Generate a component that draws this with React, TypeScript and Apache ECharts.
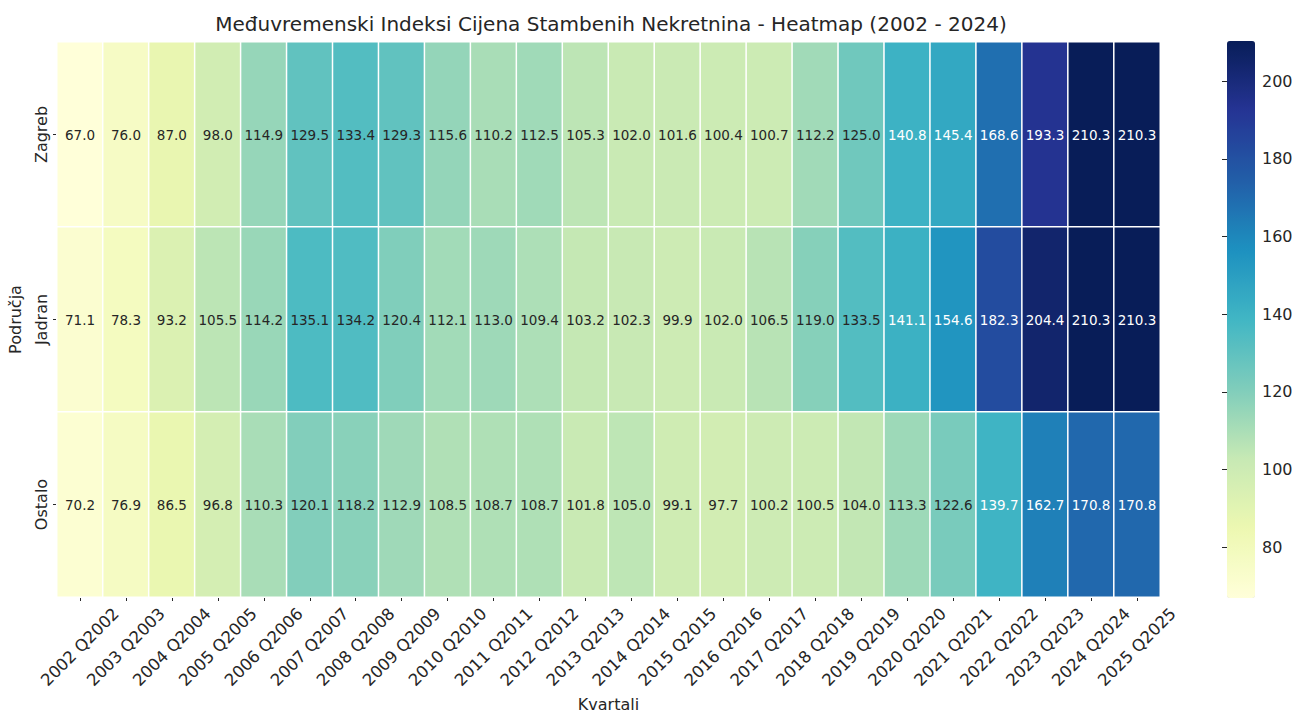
import React, { useEffect, useRef } from "react";
import * as echarts from "echarts";

const years = ["2002","2003","2004","2005","2006","2007","2008","2009","2010","2011","2012","2013","2014","2015","2016","2017","2018","2019","2020","2021","2022","2023","2024","2025"];
const quarters = years.map((y) => `${y} Q${y}`);
const regions = ["Zagreb", "Jadran", "Ostalo"];

const zagreb = [67.0, 76.0, 87.0, 98.0, 114.9, 129.5, 133.4, 129.3, 115.6, 110.2, 112.5, 105.3, 102.0, 101.6, 100.4, 100.7, 112.2, 125.0, 140.8, 145.4, 168.6, 193.3, 210.3, 210.3];
const jadran = [71.1, 78.3, 93.2, 105.5, 114.2, 135.1, 134.2, 120.4, 112.1, 113.0, 109.4, 103.2, 102.3, 99.9, 102.0, 106.5, 119.0, 133.5, 141.1, 154.6, 182.3, 204.4, 210.3, 210.3];
const ostalo = [70.2, 76.9, 86.5, 96.8, 110.3, 120.1, 118.2, 112.9, 108.5, 108.7, 108.7, 101.8, 105.0, 99.1, 97.7, 100.2, 100.5, 104.0, 113.3, 122.6, 139.7, 162.7, 170.8, 170.8];
const rows = [zagreb, jadran, ostalo];

const colorbarTicks = [80, 100, 120, 140, 160, 180, 200];
const vMin = 67.0;
const vMax = 210.3;
const ylgnbu = ["#ffffd9", "#edf8b1", "#c7e9b4", "#7fcdbb", "#41b6c4", "#1d91c0", "#225ea8", "#253494", "#081d58"];

const FONT = "DejaVu Sans";

export default function App() {
  const ref = useRef<HTMLDivElement>(null);
  useEffect(() => {
    if (!ref.current) return;
    const chart = echarts.init(ref.current, null, { renderer: "svg" });
    const data: any[] = [];
    rows.forEach((row, yi) => {
      row.forEach((v, xi) => {
        data.push({
          value: [xi, yi, v],
          label: { color: v > 137 ? "#ffffff" : "#262626" },
        });
      });
    });
    chart.setOption({
      animation: false,
      backgroundColor: "#ffffff",
      textStyle: { fontFamily: FONT },
      title: {
        text: "Međuvremenski Indeksi Cijena Stambenih Nekretnina - Heatmap (2002 - 2024)",
        left: 606,
        top: 9,
        textAlign: "center",
        textStyle: { fontFamily: FONT, fontSize: 20, fontWeight: "normal", color: "#262626" },
      },
      grid: [
        { left: 57, top: 42, width: 1103, height: 555, containLabel: false, outerBoundsMode: "none" },
        { left: 1227, top: 41, width: 28, height: 557, show: false, outerBoundsMode: "none" },
      ],
      xAxis: [
        {
          type: "category",
          data: quarters,
          gridIndex: 0,
          position: "bottom",
          name: "Kvartali",
          nameLocation: "middle",
          nameGap: 99,
          nameTextStyle: { fontFamily: FONT, fontSize: 16, color: "#262626" },
          axisLine: { show: false },
          axisTick: { show: true, alignWithLabel: true, length: 4, lineStyle: { color: "#262626" } },
          splitLine: { show: false },
          axisLabel: {
            rotate: 45,
            align: "center",
            verticalAlign: "middle",
            margin: 50,
            fontSize: 16.5,
            color: "#262626",
            fontFamily: FONT,
            interval: 0,
          },
        },
        { type: "value", gridIndex: 1, show: false, min: 0, max: 1 },
      ],
      yAxis: [
        {
          type: "category",
          data: regions,
          gridIndex: 0,
          inverse: true,
          name: "Područja",
          nameLocation: "middle",
          nameGap: 34,
          nameRotate: 90,
          nameTextStyle: { fontFamily: FONT, fontSize: 16, color: "#262626" },
          axisLine: { show: false },
          axisTick: { show: true, alignWithLabel: true, length: 4, lineStyle: { color: "#262626" } },
          splitLine: { show: false },
          axisLabel: { rotate: 90, margin: 8, fontSize: 16, color: "#262626", fontFamily: FONT },
        },
        {
          type: "value",
          gridIndex: 1,
          min: vMin,
          max: vMax,
          position: "right",
          axisLine: { show: false },
          splitLine: { show: false },
          axisTick: { show: true, inside: true, length: 5, customValues: colorbarTicks, lineStyle: { color: "#262626" } },
          axisLabel: { customValues: colorbarTicks, fontSize: 16, color: "#262626", margin: 7, fontFamily: FONT },
        },
      ],
      visualMap: {
        type: "continuous",
        min: vMin,
        max: vMax,
        seriesIndex: 0,
        show: true,
        calculable: false,
        orient: "vertical",
        left: 1227,
        top: 41,
        itemWidth: 28,
        itemHeight: 557,
        padding: 0,
        text: null,
        inRange: { color: ylgnbu },
      },
      series: [
        {
          type: "heatmap",
          xAxisIndex: 0,
          yAxisIndex: 0,
          data,
          label: {
            show: true,
            fontSize: 13.5,
            fontFamily: FONT,
            formatter: (p: any) => p.value[2].toFixed(1),
          },
          itemStyle: { borderColor: "#ffffff", borderWidth: 1.5 },
          emphasis: { disabled: true },
        },
      ],
    });
    return () => chart.dispose();
  }, []);
  return <div ref={ref} style={{ position: "fixed", left: 0, top: 0, width: 1296, height: 714 }} />;
}
